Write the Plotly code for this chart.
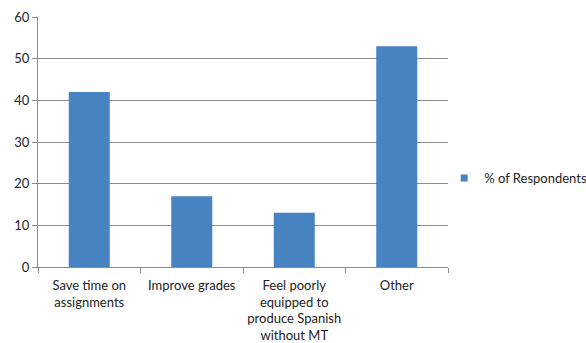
import plotly.graph_objects as go

categories = ["Save time on<br>assignments", "Improve grades",
              "Feel poorly<br>equipped to<br>produce Spanish<br>without MT", "Other"]
values = [42, 17, 13, 53]
series_name = "% of Respondents"
y_ticks = [0, 10, 20, 30, 40, 50, 60]

bar_color = "#4782C1"

fig = go.Figure()
fig.add_trace(go.Bar(
    x=categories, y=values, name=series_name,
    marker=dict(color=bar_color, line=dict(width=0)),
    width=0.4, showlegend=False,
))
# legend entry with a small square symbol
fig.add_trace(go.Scatter(
    x=[None], y=[None], mode="markers", name=series_name,
    marker=dict(symbol="square", size=7, color=bar_color),
    showlegend=True,
))

font = dict(family="Lato, Open Sans, sans-serif", size=13, color="#222222")
fig.update_layout(
    width=586, height=343,
    margin=dict(l=38, r=138, t=17, b=76, autoexpand=False),
    paper_bgcolor="white", plot_bgcolor="white",
    font=font,
    showlegend=True,
    legend=dict(xref="container", yref="container",
                x=0.758, xanchor="left", y=0.481, yanchor="middle",
                font=dict(size=13), itemwidth=30, tracegroupgap=0,
                borderwidth=0, bgcolor="rgba(0,0,0,0)"),
)
fig.update_xaxes(
    showline=True, linecolor="#8c8c8c", linewidth=1,
    ticks="outside", tickson="boundaries", ticklen=5, tickcolor="#8c8c8c",
    showgrid=False, tickfont=dict(size=13), ticklabelstandoff=6,
    tickangle=0, automargin=False,
)
fig.update_yaxes(
    range=[0, 60], tickvals=y_ticks,
    showline=True, linecolor="#8c8c8c", linewidth=1,
    ticks="outside", ticklen=5, tickcolor="#8c8c8c",
    showgrid=True, gridcolor="#8c8c8c", gridwidth=1,
    zeroline=False, tickfont=dict(size=13), automargin=False,
)
fig.write_html("out.html")
